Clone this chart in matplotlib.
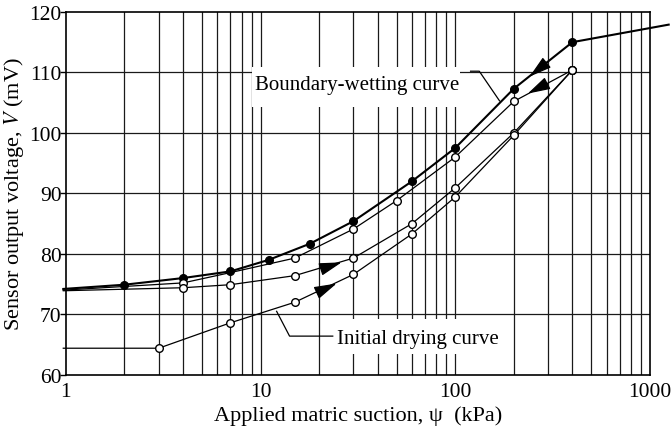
import matplotlib
matplotlib.use("Agg")
import matplotlib.pyplot as plt
import numpy as np
from matplotlib.patches import Rectangle
from matplotlib.ticker import FixedLocator, NullFormatter

# Boundary-wetting curve (filled markers)
wet_x = [400, 200, 100, 60, 30, 18, 11, 7, 4, 2]
wet_y = [115.0, 107.3, 97.5, 92.0, 85.4, 81.7, 79.0, 77.1, 76.0, 74.9]
wet_end_x = [0.97, 1250]
wet_end_y = [74.2, 117.9]

# Secondary wetting curve (open markers)
wet2_x = [400, 200, 100, 50, 30, 15, 7, 4, 0.97]
wet2_y = [110.4, 105.2, 96.0, 88.8, 84.1, 79.3, 76.9, 75.2, 74.0]

# Drying curve after wetting (open markers)
dry_x = [0.97, 4, 7, 15, 30, 60, 100, 200, 400]
dry_y = [73.9, 74.4, 74.9, 76.4, 79.3, 85.0, 90.9, 100.0, 110.4]

# Initial drying curve (open markers)
init_x = [0.97, 3, 7, 15, 30, 60, 100, 200, 400]
init_y = [64.4, 64.4, 68.6, 72.0, 76.6, 83.3, 89.4, 99.6, 110.4]

plt.rcParams.update({
    "font.family": "Liberation Serif",
    "mathtext.fontset": "stix",
    "font.size": 15.5,
})

fig = plt.figure(figsize=(6.72, 4.31), dpi=100)
ax = fig.add_axes([0.098, 0.128, 0.869, 0.842])

ax.set_xscale("log")
ax.set_xlim(1, 1000)
ax.set_ylim(60, 120)

major = [1, 10, 100, 1000]
minor = [m * d for d in (1, 10, 100) for m in range(2, 10)]
ax.xaxis.set_major_locator(FixedLocator(major))
ax.xaxis.set_minor_locator(FixedLocator(minor))
ax.xaxis.set_minor_formatter(NullFormatter())
ax.set_xticklabels(["1", "10", "100", "1000"])
ax.set_yticks(np.arange(60, 121, 10))

ax.tick_params(axis="x", which="both", length=0, pad=5)
ax.tick_params(axis="y", which="major", length=4, width=1, direction="out", pad=-1)

for v in major[1:-1] + minor:
    ax.axvline(v, color="#1a1a1a", lw=0.9, zorder=1)
for v in range(70, 120, 10):
    ax.axhline(v, color="#1a1a1a", lw=0.9, zorder=1)

for s in ax.spines.values():
    s.set_linewidth(1.2)
    s.set_zorder(5)

mk = dict(marker="o", ms=5.5, mec="black", mew=1.0, color="black")

# boundary wetting: full line including extension past 400 kPa and start at 1 kPa
ax.plot([wet_end_x[1]] + wet_x + [wet_end_x[0]],
        [wet_end_y[1]] + wet_y + [wet_end_y[0]],
        color="black", lw=1.5, zorder=3, clip_on=False)
ax.plot(wet_x, wet_y, lw=0, mfc="black", zorder=4, **mk)

ax.plot(wet2_x, wet2_y, color="black", lw=0.9, zorder=3, clip_on=False)
ax.plot([x for x in wet2_x if x not in (7, 0.97)],
        [y for x, y in zip(wet2_x, wet2_y) if x not in (7, 0.97)],
        lw=0, mfc="white", zorder=4, **mk)

ax.plot(dry_x, dry_y, color="black", lw=0.9, zorder=3, clip_on=False)
ax.plot(dry_x[1:], dry_y[1:], lw=0, mfc="white", zorder=4, **mk)

ax.plot(init_x, init_y, color="black", lw=0.9, zorder=3, clip_on=False)
ax.plot(init_x[1:], init_y[1:], lw=0, mfc="white", zorder=4, **mk)

# direction arrows along the curves
arrows = [
    ((241, 109.3), (300, 111.8)),
    ((236, 106.5), (290, 108.0)),
    ((26.1, 78.6), (21, 77.6)),
    ((24.6, 75.1), (19.5, 73.6)),
]
for tip, tail in arrows:
    ax.annotate("", xy=tip, xytext=tail,
                arrowprops=dict(arrowstyle="-|>,head_length=1.4,head_width=0.4",
                                mutation_scale=10, color="black", lw=0.9,
                                shrinkA=0, shrinkB=0),
                zorder=6)

# white label boxes that cut the grid
for (x0, y0, w, h) in [(0.318, 0.738, 0.357, 0.110), (0.440, 0.058, 0.312, 0.096)]:
    ax.add_patch(Rectangle((x0, y0), w, h, transform=ax.transAxes,
                           facecolor="white", edgecolor="none", zorder=2))

ax.text(9.4, 107.2, "Boundary-wetting curve", ha="left", va="baseline",
        fontsize=15, zorder=7)
ax.plot([120, 133, 169], [110.2, 110.2, 105.3], color="black", lw=0.9, zorder=7)

ax.text(24.6, 65.3, "Initial drying curve", ha="left", va="baseline",
        fontsize=15, zorder=7)
ax.plot([23.5, 14.1, 12.1], [66.4, 66.4, 70.5], color="black", lw=0.9, zorder=7)

ax.set_xlabel(r"Applied matric suction, ψ  (kPa)", fontsize=16, labelpad=3)
ax.set_ylabel(r"Sensor output voltage, $V$ (mV)", fontsize=16)
ax.yaxis.set_label_coords(-0.068, 0.5)

fig.savefig("out.png", dpi=100)
